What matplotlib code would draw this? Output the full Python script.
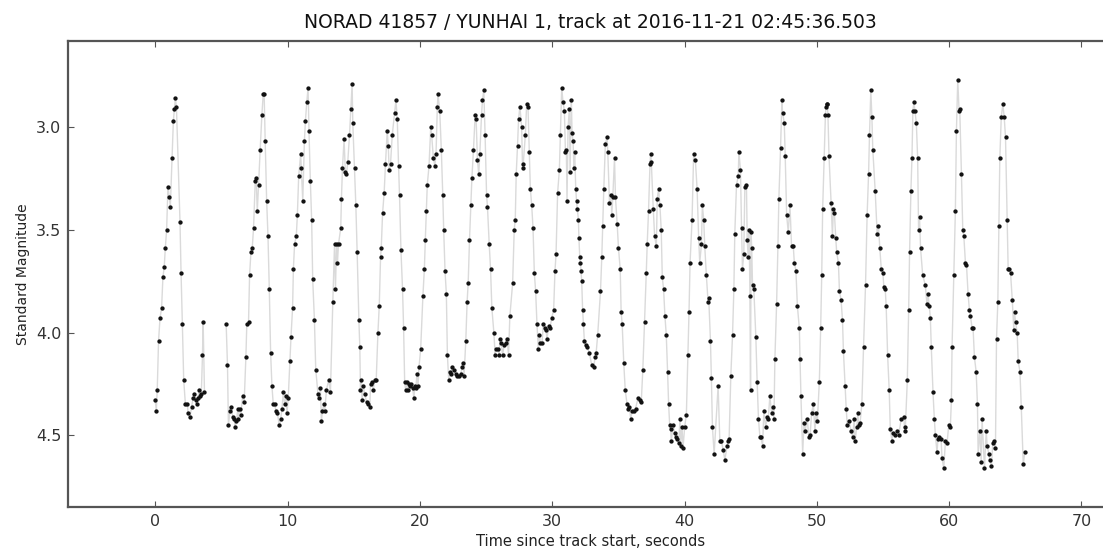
import numpy as np
import matplotlib
matplotlib.use("Agg")
import matplotlib.pyplot as plt
from matplotlib.ticker import MultipleLocator, FormatStrFormatter

norad_id = 41857
sat_name = "YUNHAI 1"
track_start = "2016-11-21 02:45:36.503"

# seconds since the start of the track
t_sec = [
    0.00, 0.08, 0.15, 0.25, 0.36, 0.48, 0.58, 0.68, 0.76, 0.86,
    0.96, 1.06, 1.14, 1.27, 1.37, 1.45, 1.52, 1.60, 1.87, 1.95,
    2.05, 2.15, 2.28, 2.43, 2.48, 2.63, 2.75, 2.86, 2.95, 3.05,
    3.13, 3.22, 3.31, 3.40, 3.48, 3.57, 3.62, 3.72, 5.36, 5.46,
    5.53, 5.66, 5.74, 5.86, 5.97, 6.04, 6.14, 6.24, 6.29, 6.37,
    6.47, 6.60, 6.72, 6.85, 6.92, 7.05, 7.13, 7.23, 7.33, 7.43,
    7.56, 7.63, 7.71, 7.81, 7.93, 8.06, 8.16, 8.23, 8.31, 8.42,
    8.52, 8.62, 8.72, 8.82, 8.92, 9.02, 9.12, 9.22, 9.38, 9.48,
    9.58, 9.68, 9.78, 9.88, 9.96, 10.05, 10.18, 10.26, 10.38, 10.44,
    10.53, 10.66, 10.74, 10.84, 10.99, 11.04, 11.15, 11.27, 11.35, 11.45,
    11.55, 11.62, 11.72, 11.82, 11.90, 12.03, 12.13, 12.30, 12.40, 12.48,
    12.56, 12.64, 12.73, 12.81, 12.94, 13.11, 13.24, 13.42, 13.55, 13.62,
    13.70, 13.77, 13.85, 14.02, 14.07, 14.15, 14.27, 14.37, 14.45, 14.55,
    14.68, 14.78, 14.88, 14.93, 15.06, 15.16, 15.26, 15.39, 15.46, 15.51,
    15.56, 15.64, 15.71, 15.84, 15.97, 16.08, 16.22, 16.27, 16.40, 16.47,
    16.60, 16.70, 16.83, 16.93, 17.03, 17.08, 17.18, 17.30, 17.40, 17.53,
    17.61, 17.68, 17.78, 17.91, 18.09, 18.19, 18.29, 18.39, 18.46, 18.57,
    18.69, 18.77, 18.85, 18.92, 19.00, 19.10, 19.18, 19.25, 19.35, 19.45,
    19.55, 19.62, 19.70, 19.78, 19.86, 19.93, 20.06, 20.23, 20.34, 20.41,
    20.49, 20.56, 20.69, 20.82, 20.89, 21.02, 21.13, 21.22, 21.32, 21.37,
    21.50, 21.62, 21.73, 21.80, 21.90, 22.00, 22.08, 22.18, 22.25, 22.36,
    22.46, 22.58, 22.71, 22.84, 22.96, 23.08, 23.22, 23.27, 23.34, 23.47,
    23.57, 23.65, 23.75, 23.85, 23.93, 24.05, 24.18, 24.25, 24.35, 24.45,
    24.53, 24.66, 24.73, 24.83, 24.93, 25.04, 25.11, 25.24, 25.34, 25.44,
    25.59, 25.69, 25.74, 25.87, 25.99, 26.05, 26.15, 26.25, 26.37, 26.50,
    26.60, 26.70, 26.80, 27.01, 27.13, 27.21, 27.28, 27.38, 27.46, 27.56,
    27.69, 27.76, 27.81, 27.97, 28.07, 28.17, 28.27, 28.35, 28.45, 28.55,
    28.65, 28.75, 28.85, 28.95, 29.03, 29.10, 29.23, 29.33, 29.45, 29.53,
    29.61, 29.73, 29.83, 29.96, 30.11, 30.21, 30.29, 30.41, 30.54, 30.62,
    30.72, 30.82, 30.92, 31.00, 31.07, 31.12, 31.20, 31.30, 31.35, 31.45,
    31.50, 31.58, 31.64, 31.70, 31.78, 31.84, 31.90, 31.98, 32.02, 32.08,
    32.13, 32.18, 32.23, 32.30, 32.36, 32.43, 32.53, 32.63, 32.81, 32.99,
    33.14, 33.24, 33.32, 33.44, 33.65, 33.75, 33.82, 33.90, 34.02, 34.15,
    34.20, 34.33, 34.45, 34.50, 34.58, 34.71, 34.78, 34.91, 35.01, 35.14,
    35.21, 35.29, 35.41, 35.52, 35.66, 35.75, 35.84, 35.93, 36.05, 36.15,
    36.30, 36.48, 36.60, 36.73, 36.85, 36.98, 37.11, 37.18, 37.28, 37.39,
    37.44, 37.49, 37.64, 37.74, 37.87, 37.94, 38.04, 38.14, 38.24, 38.32,
    38.42, 38.52, 38.62, 38.72, 38.80, 38.88, 38.95, 39.00, 39.13, 39.26,
    39.38, 39.46, 39.56, 39.66, 39.71, 39.81, 39.89, 40.01, 40.14, 40.26,
    40.34, 40.42, 40.57, 40.69, 40.82, 40.95, 41.07, 41.15, 41.28, 41.35,
    41.45, 41.53, 41.65, 41.78, 41.83, 41.96, 42.03, 42.11, 42.24, 42.54,
    42.67, 42.79, 42.92, 43.05, 43.22, 43.30, 43.37, 43.50, 43.63, 43.73,
    43.80, 43.93, 44.06, 44.11, 44.23, 44.31, 44.38, 44.48, 44.56, 44.68,
    44.74, 44.81, 44.89, 44.94, 44.99, 45.03, 45.08, 45.14, 45.24, 45.39,
    45.49, 45.59, 45.70, 45.77, 45.90, 46.00, 46.13, 46.25, 46.33, 46.45,
    46.58, 46.66, 46.76, 46.83, 46.96, 47.06, 47.13, 47.26, 47.36, 47.41,
    47.54, 47.61, 47.72, 47.84, 47.97, 48.09, 48.22, 48.30, 48.42, 48.53,
    48.68, 48.73, 48.80, 48.93, 49.03, 49.11, 49.28, 49.39, 49.49, 49.61,
    49.74, 49.86, 49.94, 50.04, 50.19, 50.29, 50.37, 50.44, 50.55, 50.65,
    50.70, 50.74, 50.79, 50.84, 50.92, 51.08, 51.18, 51.25, 51.33, 51.43,
    51.50, 51.63, 51.71, 51.83, 51.94, 52.01, 52.14, 52.22, 52.30, 52.44,
    52.59, 52.72, 52.82, 52.89, 53.02, 53.10, 53.15, 53.27, 53.40, 53.53,
    53.68, 53.80, 53.91, 53.98, 54.08, 54.16, 54.23, 54.41, 54.56, 54.66,
    54.76, 54.87, 54.99, 55.07, 55.17, 55.24, 55.35, 55.47, 55.55, 55.68,
    55.75, 55.93, 56.05, 56.18, 56.38, 56.56, 56.63, 56.68, 56.84, 56.94,
    57.01, 57.11, 57.19, 57.26, 57.34, 57.41, 57.52, 57.62, 57.69, 57.76,
    57.84, 58.00, 58.20, 58.32, 58.40, 58.50, 58.58, 58.65, 58.78, 58.88,
    58.96, 59.08, 59.16, 59.26, 59.39, 59.46, 59.59, 59.72, 59.84, 59.97,
    60.09, 60.17, 60.22, 60.35, 60.47, 60.55, 60.65, 60.75, 60.80, 60.93,
    61.03, 61.11, 61.23, 61.31, 61.43, 61.53, 61.61, 61.74, 61.81, 61.91,
    62.04, 62.14, 62.19, 62.32, 62.42, 62.49, 62.67, 62.80, 62.87, 63.00,
    63.07, 63.20, 63.30, 63.38, 63.50, 63.58, 63.68, 63.76, 63.83, 63.94,
    64.06, 64.16, 64.26, 64.39, 64.46, 64.54, 64.64, 64.77, 64.89, 64.94,
    65.02, 65.14, 65.22, 65.35, 65.45, 65.60, 65.73,
]

# standard magnitude of each sample
mag = [
    4.33, 4.38, 4.28, 4.04, 3.93, 3.88, 3.73, 3.68, 3.59, 3.50,
    3.29, 3.34, 3.39, 3.15, 2.97, 2.91, 2.86, 2.90, 3.46, 3.71,
    3.96, 4.23, 4.35, 4.35, 4.39, 4.41, 4.36, 4.32, 4.30, 4.33,
    4.35, 4.32, 4.28, 4.31, 4.30, 4.11, 3.95, 4.29, 3.96, 4.16,
    4.45, 4.38, 4.36, 4.41, 4.42, 4.46, 4.43, 4.37, 4.42, 4.37,
    4.40, 4.31, 4.34, 4.12, 3.96, 3.95, 3.72, 3.61, 3.59, 3.49,
    3.26, 3.25, 3.41, 3.28, 3.11, 2.94, 2.84, 2.84, 3.07, 3.36,
    3.53, 3.79, 4.10, 4.26, 4.35, 4.35, 4.38, 4.39, 4.45, 4.42,
    4.37, 4.29, 4.35, 4.31, 4.39, 4.32, 4.14, 4.02, 3.88, 3.69,
    3.57, 3.53, 3.43, 3.24, 3.13, 3.20, 3.36, 3.07, 2.97, 2.88,
    2.81, 3.02, 3.26, 3.45, 3.74, 3.94, 4.18, 4.30, 4.32, 4.27,
    4.43, 4.38, 4.35, 4.38, 4.28, 4.23, 4.29, 3.85, 3.57, 3.79,
    3.57, 3.66, 3.57, 3.49, 3.35, 3.20, 3.06, 3.22, 3.23, 3.17,
    3.04, 2.91, 2.79, 2.98, 3.20, 3.38, 3.61, 3.94, 4.07, 4.28,
    4.23, 4.33, 4.26, 4.30, 4.34, 4.35, 4.36, 4.25, 4.24, 4.28,
    4.23, 4.23, 4.00, 3.87, 3.63, 3.59, 3.42, 3.32, 3.18, 3.02,
    3.09, 3.21, 3.18, 3.04, 2.93, 2.87, 2.96, 3.19, 3.33, 3.60,
    3.79, 3.98, 4.24, 4.28, 4.24, 4.28, 4.25, 4.26, 4.25, 4.27,
    4.32, 4.26, 4.27, 4.20, 4.26, 4.17, 4.08, 3.82, 3.69, 3.55,
    3.41, 3.28, 3.19, 3.00, 3.04, 3.15, 3.19, 3.13, 2.90, 2.84,
    2.92, 3.11, 3.33, 3.50, 3.70, 3.81, 4.11, 4.23, 4.19, 4.20,
    4.17, 4.18, 4.20, 4.21, 4.21, 4.20, 4.17, 4.15, 4.21, 4.04,
    3.85, 3.76, 3.55, 3.38, 3.25, 3.11, 2.94, 2.96, 3.16, 3.23,
    3.13, 2.94, 2.87, 2.82, 3.04, 3.33, 3.39, 3.57, 3.69, 3.88,
    4.00, 4.11, 4.08, 4.08, 4.11, 4.03, 4.05, 4.11, 4.06, 4.05,
    4.03, 4.11, 3.92, 3.76, 3.50, 3.45, 3.23, 3.09, 2.96, 2.90,
    3.00, 3.20, 3.18, 3.04, 2.89, 2.90, 3.12, 3.30, 3.38, 3.49,
    3.71, 3.80, 3.96, 4.08, 4.01, 4.05, 4.05, 3.96, 3.98, 3.99,
    4.03, 3.97, 3.98, 3.93, 3.89, 3.70, 3.62, 3.32, 3.21, 3.04,
    2.81, 2.88, 2.92, 3.12, 3.11, 3.36, 3.00, 2.91, 3.22, 2.87,
    3.03, 3.07, 3.20, 3.12, 3.30, 3.36, 3.40, 3.45, 3.54, 3.63,
    3.66, 3.70, 3.75, 3.89, 3.96, 4.04, 4.06, 4.07, 4.10, 4.16,
    4.17, 4.12, 4.10, 4.01, 3.80, 3.63, 3.48, 3.30, 3.08, 3.05,
    3.12, 3.37, 3.33, 3.43, 3.34, 3.15, 3.34, 3.47, 3.59, 3.69,
    3.90, 3.96, 4.15, 4.28, 4.35, 4.37, 4.36, 4.42, 4.38, 4.38,
    4.37, 4.32, 4.33, 4.34, 4.18, 3.95, 3.71, 3.57, 3.41, 3.18,
    3.13, 3.17, 3.40, 3.53, 3.58, 3.35, 3.30, 3.38, 3.50, 3.73,
    3.79, 3.92, 4.01, 4.19, 4.35, 4.45, 4.47, 4.53, 4.45, 4.49,
    4.51, 4.52, 4.54, 4.42, 4.55, 4.46, 4.56, 4.46, 4.40, 4.11,
    3.90, 3.66, 3.45, 3.13, 3.16, 3.30, 3.54, 3.66, 3.57, 3.38,
    3.45, 3.58, 3.72, 3.85, 3.83, 4.04, 4.22, 4.46, 4.59, 4.26,
    4.53, 4.53, 4.57, 4.62, 4.55, 4.53, 4.52, 4.21, 4.01, 3.79,
    3.52, 3.28, 3.24, 3.12, 3.21, 3.49, 3.69, 3.62, 3.29, 3.28,
    3.55, 3.63, 3.50, 3.82, 4.28, 3.51, 3.59, 3.77, 3.79, 4.02,
    4.24, 4.42, 4.51, 4.51, 4.55, 4.38, 4.46, 4.41, 4.42, 4.31,
    4.39, 4.36, 4.42, 4.13, 3.86, 3.58, 3.35, 3.10, 2.87, 2.93,
    2.98, 3.14, 3.43, 3.51, 3.38, 3.58, 3.58, 3.66, 3.70, 3.87,
    3.98, 4.13, 4.31, 4.59, 4.44, 4.48, 4.42, 4.51, 4.50, 4.39,
    4.35, 4.48, 4.39, 4.43, 4.24, 3.98, 3.72, 3.40, 3.15, 2.94,
    2.90, 2.89, 2.89, 2.94, 3.14, 3.37, 3.53, 3.40, 3.42, 3.54,
    3.61, 3.66, 3.80, 3.84, 3.94, 4.09, 4.26, 4.37, 4.45, 4.43,
    4.48, 4.51, 4.42, 4.53, 4.46, 4.39, 4.45, 4.44, 4.35, 4.07,
    3.77, 3.43, 3.23, 3.04, 2.82, 2.95, 3.11, 3.31, 3.52, 3.48,
    3.59, 3.69, 3.71, 3.78, 3.79, 3.87, 4.11, 4.28, 4.47, 4.53,
    4.49, 4.50, 4.48, 4.50, 4.42, 4.41, 4.46, 4.48, 4.23, 3.89,
    3.61, 3.31, 3.15, 2.92, 2.88, 2.92, 2.98, 3.15, 3.50, 3.44,
    3.59, 3.72, 3.77, 3.86, 3.81, 3.87, 3.93, 4.07, 4.29, 4.42,
    4.50, 4.58, 4.52, 4.51, 4.52, 4.61, 4.66, 4.53, 4.54, 4.45,
    4.46, 4.33, 4.07, 3.72, 3.41, 3.02, 2.77, 2.92, 2.91, 3.23,
    3.50, 3.53, 3.66, 3.67, 3.81, 3.89, 3.92, 3.98, 3.98, 4.12,
    4.19, 4.35, 4.59, 4.48, 4.63, 4.42, 4.66, 4.48, 4.55, 4.59,
    4.62, 4.65, 4.54, 4.53, 4.56, 4.03, 3.85, 3.48, 3.15, 2.95,
    2.89, 2.95, 3.05, 3.45, 3.69, 3.69, 3.71, 3.84, 3.99, 3.90,
    3.95, 4.00, 4.14, 4.19, 4.36, 4.64, 4.58,
]

t = np.array(t_sec)
m = np.array(mag)

# the connecting line is broken wherever the track has a dropout
gaps = np.where(np.diff(t) > 1.0)[0] + 1
segments = np.split(np.arange(len(t)), gaps)

fig = plt.figure(figsize=(11.03, 5.51), dpi=100)
ax = fig.add_axes([0.0619, 0.0799, 0.9462, 0.8457])

for idx in segments:
    ax.plot(t[idx], m[idx], color="#dadada", lw=1.0, zorder=1)
ax.plot(t, m, ls="none", marker="o", ms=2.1, mfc="#111111", mec="#111111", zorder=2)

ax.margins(0.1)
ax.invert_yaxis()

ax.xaxis.set_major_locator(MultipleLocator(10))
ax.yaxis.set_major_locator(MultipleLocator(0.5))
ax.yaxis.set_major_formatter(FormatStrFormatter("%.1f"))
ax.tick_params(direction="in", top=True, right=True, length=4, width=0.8,
               color="#555555", labelcolor="#333333", labelsize=11.5, pad=5)
for sp in ax.spines.values():
    sp.set_color("#555555")
    sp.set_linewidth(1.6)

ax.set_xlabel("Time since track start, seconds", fontsize=10.5, color="#222222")
ax.set_ylabel("Standard Magnitude", fontsize=10, color="#222222")
ax.set_title(f"NORAD {norad_id} / {sat_name}, track at {track_start}",
             fontsize=13.5, color="#111111", pad=9)

fig.savefig("out.png", dpi=100)
